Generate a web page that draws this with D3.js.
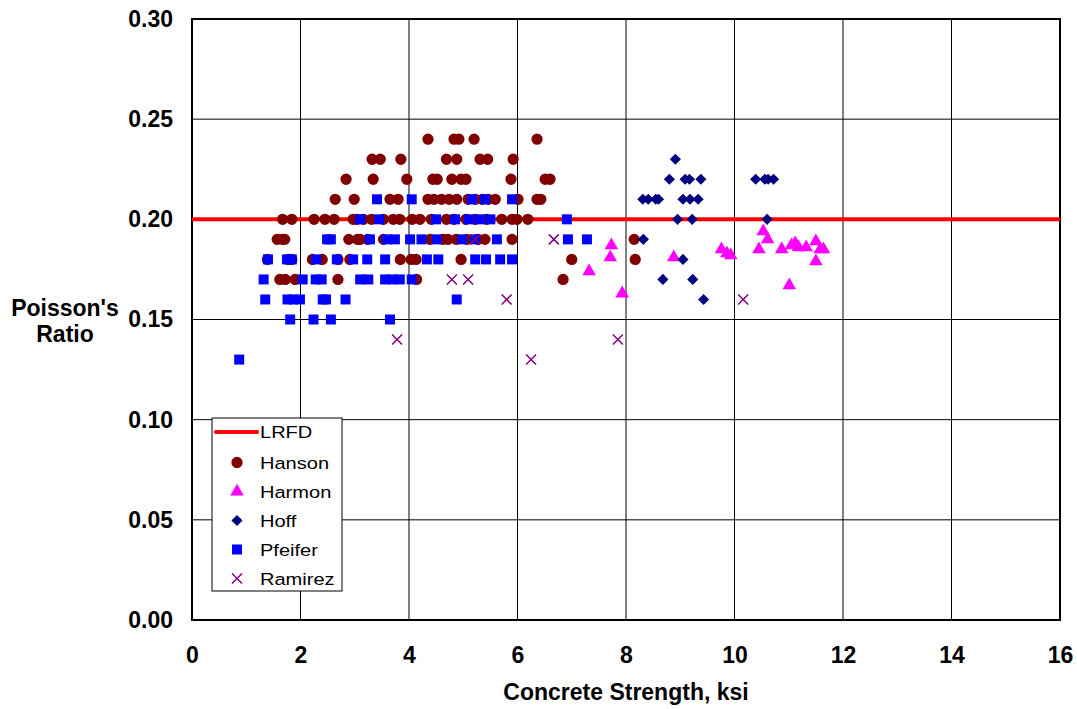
<!DOCTYPE html>
<html>
<head>
<meta charset="utf-8">
<script src="https://cdn.jsdelivr.net/npm/d3@7"></script>
<style>
  body { margin: 0; background: #fff; }
  svg { font-family: Arial, "Liberation Sans", sans-serif; }
</style>
</head>
<body>
<svg class="chart"></svg>
<script>
const xTicks = [0, 2, 4, 6, 8, 10, 12, 14, 16];
const yTicks = [0, 0.05, 0.1, 0.15, 0.2, 0.25, 0.3];
const lrfd = 0.2;

// [ksi, ratio]
const hanson = [
  [4.35, 0.24], [4.83, 0.24], [4.92, 0.24], [5.2, 0.24], [6.36, 0.24],
  [3.32, 0.23], [3.47, 0.23], [3.85, 0.23], [4.69, 0.23], [4.88, 0.23], [5.31, 0.23], [5.45, 0.23], [5.92, 0.23],
  [2.84, 0.22], [3.34, 0.22], [3.96, 0.22], [4.44, 0.22], [4.52, 0.22], [4.79, 0.22], [4.96, 0.22], [5.05, 0.22],
  [5.88, 0.22], [6.51, 0.22], [6.6, 0.22],
  [2.64, 0.21], [2.99, 0.21], [3.65, 0.21], [3.8, 0.21], [4.35, 0.21], [4.46, 0.21], [4.6, 0.21], [4.74, 0.21],
  [4.88, 0.21], [5.09, 0.21], [5.22, 0.21], [5.35, 0.21], [5.46, 0.21], [5.59, 0.21], [6.01, 0.21], [6.36, 0.21], [6.43, 0.21],
  [1.67, 0.2], [1.84, 0.2], [2.25, 0.2], [2.45, 0.2], [2.62, 0.2], [2.97, 0.2], [3.04, 0.2], [3.16, 0.2], [3.31, 0.2],
  [3.53, 0.2], [3.71, 0.2], [3.83, 0.2], [4.06, 0.2], [4.2, 0.2], [4.41, 0.2], [4.69, 0.2], [4.83, 0.2], [5.05, 0.2],
  [5.22, 0.2], [5.43, 0.2], [5.71, 0.2], [5.9, 0.2], [5.99, 0.2], [6.19, 0.2],
  [1.57, 0.19], [1.66, 0.19], [1.71, 0.19], [2.89, 0.19], [3.05, 0.19], [3.1, 0.19], [3.24, 0.19], [3.53, 0.19],
  [4.39, 0.19], [4.63, 0.19], [4.72, 0.19], [4.87, 0.19], [5.07, 0.19], [5.27, 0.19], [5.4, 0.19], [5.9, 0.19], [8.15, 0.19],
  [1.39, 0.18], [1.77, 0.18], [1.84, 0.18], [2.22, 0.18], [2.4, 0.18], [2.69, 0.18], [2.91, 0.18], [3.84, 0.18],
  [4.04, 0.18], [4.13, 0.18], [4.96, 0.18], [7.0, 0.18], [8.17, 0.18],
  [1.62, 0.17], [1.72, 0.17], [1.9, 0.17], [2.69, 0.17], [4.14, 0.17], [6.84, 0.17]
];

const harmon = [
  [7.32, 0.174], [7.73, 0.187], [7.71, 0.181], [7.93, 0.163], [8.88, 0.181], [9.76, 0.185], [9.86, 0.183],
  [9.93, 0.182], [10.45, 0.185], [10.53, 0.194], [10.61, 0.19], [10.87, 0.185], [11.01, 0.167], [11.05, 0.187],
  [11.12, 0.188], [11.18, 0.186], [11.32, 0.186], [11.5, 0.189], [11.5, 0.179], [11.58, 0.185], [11.64, 0.185]
];

const hoff = [
  [8.91, 0.23],
  [8.8, 0.22], [9.09, 0.22], [9.17, 0.22], [9.38, 0.22], [10.39, 0.22], [10.56, 0.22], [10.62, 0.22], [10.72, 0.22],
  [8.31, 0.21], [8.41, 0.21], [8.55, 0.21], [8.6, 0.21], [9.05, 0.21], [9.18, 0.21], [9.33, 0.21],
  [8.95, 0.2], [9.22, 0.2], [10.6, 0.2],
  [8.32, 0.19], [9.05, 0.18], [8.68, 0.17], [9.23, 0.17], [9.43, 0.16]
];

const pfeifer = [
  [3.41, 0.21], [4.05, 0.21], [5.16, 0.21], [5.4, 0.21], [5.9, 0.21],
  [3.1, 0.2], [3.45, 0.2], [4.5, 0.2], [4.85, 0.2], [5.1, 0.2], [5.3, 0.2], [5.5, 0.2], [6.91, 0.2],
  [2.49, 0.19], [2.56, 0.19], [3.28, 0.19], [3.59, 0.19], [3.74, 0.19], [4.02, 0.19], [4.23, 0.19], [4.51, 0.19],
  [4.98, 0.19], [5.22, 0.19], [5.62, 0.19], [6.93, 0.19], [7.28, 0.19],
  [1.4, 0.18], [1.75, 0.18], [1.84, 0.18], [2.29, 0.18], [2.67, 0.18], [2.97, 0.18], [3.23, 0.18], [3.56, 0.18],
  [4.33, 0.18], [4.54, 0.18], [5.22, 0.18], [5.42, 0.18], [5.68, 0.18], [5.9, 0.18],
  [1.32, 0.17], [2.04, 0.17], [2.28, 0.17], [2.39, 0.17], [3.1, 0.17], [3.25, 0.17], [3.56, 0.17], [3.69, 0.17],
  [3.83, 0.17], [4.05, 0.17],
  [1.35, 0.16], [1.76, 0.16], [1.86, 0.16], [1.99, 0.16], [2.41, 0.16], [2.47, 0.16], [2.83, 0.16], [4.88, 0.16],
  [1.81, 0.15], [2.24, 0.15], [2.56, 0.15], [3.65, 0.15],
  [0.87, 0.13]
];

const ramirez = [
  [3.78, 0.14], [4.79, 0.17], [5.09, 0.17], [5.22, 0.19], [5.8, 0.16], [6.25, 0.13], [6.67, 0.19], [7.85, 0.14], [10.16, 0.16]
];

const width = 1077;
const height = 709;
const margin = { top: 19, right: 17, bottom: 89, left: 192 };

const svg = d3.select(".chart").attr("width", width).attr("height", height);

const xScale = d3.scaleLinear().domain([0, 16]).range([margin.left, width - margin.right]);
const yScale = d3.scaleLinear().domain([0, 0.3]).range([height - margin.bottom, margin.top]);

// grid
svg.append("g")
  .selectAll("line")
  .data(xTicks)
  .enter()
  .append("line")
  .attr("x1", (d) => xScale(d)).attr("x2", (d) => xScale(d))
  .attr("y1", yScale(0)).attr("y2", yScale(0.3))
  .attr("stroke", "#000").attr("stroke-width", 1);

svg.append("g")
  .selectAll("line")
  .data(yTicks)
  .enter()
  .append("line")
  .attr("x1", xScale(0)).attr("x2", xScale(16))
  .attr("y1", (d) => yScale(d)).attr("y2", (d) => yScale(d))
  .attr("stroke", "#000").attr("stroke-width", 1);

// axes (labels only, frame drawn below)
const xAxis = svg.append("g")
  .attr("transform", `translate(0,${yScale(0)})`)
  .call(d3.axisBottom(xScale).tickValues(xTicks).tickFormat(d3.format("d")).tickSize(0).tickPadding(27));
const yAxis = svg.append("g")
  .attr("transform", `translate(${xScale(0)},0)`)
  .call(d3.axisLeft(yScale).tickValues(yTicks).tickFormat(d3.format(".2f")).tickSize(0).tickPadding(19));
[xAxis, yAxis].forEach((a) => {
  a.select(".domain").remove();
  a.selectAll("text")
    .attr("font-family", "Arial, 'Liberation Sans', sans-serif")
    .attr("font-size", 23).attr("font-weight", "bold").attr("fill", "#000");
});

svg.append("rect")
  .attr("x", xScale(0)).attr("y", yScale(0.3))
  .attr("width", xScale(16) - xScale(0)).attr("height", yScale(0) - yScale(0.3))
  .attr("fill", "none").attr("stroke", "#000").attr("stroke-width", 2);

// LRFD line
svg.append("line")
  .attr("x1", xScale(0)).attr("x2", xScale(16))
  .attr("y1", yScale(lrfd)).attr("y2", yScale(lrfd))
  .attr("stroke", "#ff0000").attr("stroke-width", 4);

const series = [
  { name: "Hanson", data: hanson, color: "#800000", type: d3.symbolCircle, size: 100 },
  { name: "Harmon", data: harmon, color: "#ff00ff", type: d3.symbolTriangle, size: 80 },
  { name: "Hoff", data: hoff, color: "#000080", type: "diamond", size: 62 },
  { name: "Pfeifer", data: pfeifer, color: "#0000ff", type: d3.symbolSquare, size: 100 },
  { name: "Ramirez", data: ramirez, color: "#800080", type: "x", size: 5 }
];

function drawMark(g, s, x, y) {
  if (s.type === "x") {
    const r = s.size;
    g.append("path")
      .attr("d", `M${x - r},${y - r}L${x + r},${y + r}M${x - r},${y + r}L${x + r},${y - r}`)
      .attr("stroke", s.color).attr("stroke-width", 1.5).attr("fill", "none");
  } else if (s.type === "diamond") {
    g.append("path")
      .attr("d", d3.symbol().type(d3.symbolSquare).size(s.size)())
      .attr("transform", `translate(${x},${y}) rotate(45)`)
      .attr("fill", s.color);
  } else {
    g.append("path")
      .attr("d", d3.symbol().type(s.type).size(s.size)())
      .attr("transform", `translate(${x},${y})`)
      .attr("fill", s.color);
  }
}

series.forEach((s) => {
  const g = svg.append("g");
  s.data.forEach((d) => drawMark(g, s, xScale(d[0]), yScale(d[1])));
});

// legend
const lg = svg.append("g").attr("transform", "translate(212,418)");
lg.append("rect").attr("width", 130).attr("height", 173)
  .attr("fill", "#fff").attr("stroke", "#000").attr("stroke-width", 1);
lg.append("line").attr("x1", 4).attr("x2", 45).attr("y1", 14).attr("y2", 14)
  .attr("stroke", "#ff0000").attr("stroke-width", 4).attr("stroke-linecap", "round");
function legendText(x, y, t) {
  lg.append("text")
    .attr("transform", `translate(${x},${y}) scale(1.18,1)`)
    .attr("font-size", 17).text(t);
}
legendText(48, 20, "LRFD");
series.forEach((s, i) => {
  const yy = 44.5 + i * 29;
  drawMark(lg, s, 25, yy);
  legendText(48, yy + 6, s.name);
});

// axis titles
svg.append("text")
  .attr("x", (xScale(0) + xScale(16)) / 2).attr("y", 700)
  .attr("text-anchor", "middle").attr("font-size", 23).attr("font-weight", "bold")
  .text("Concrete Strength, ksi");
const yt = svg.append("text")
  .attr("text-anchor", "middle").attr("font-size", 23).attr("font-weight", "bold");
yt.append("tspan").attr("x", 65).attr("y", 316).text("Poisson's");
yt.append("tspan").attr("x", 65).attr("y", 342).text("Ratio");
</script>
</body>
</html>
